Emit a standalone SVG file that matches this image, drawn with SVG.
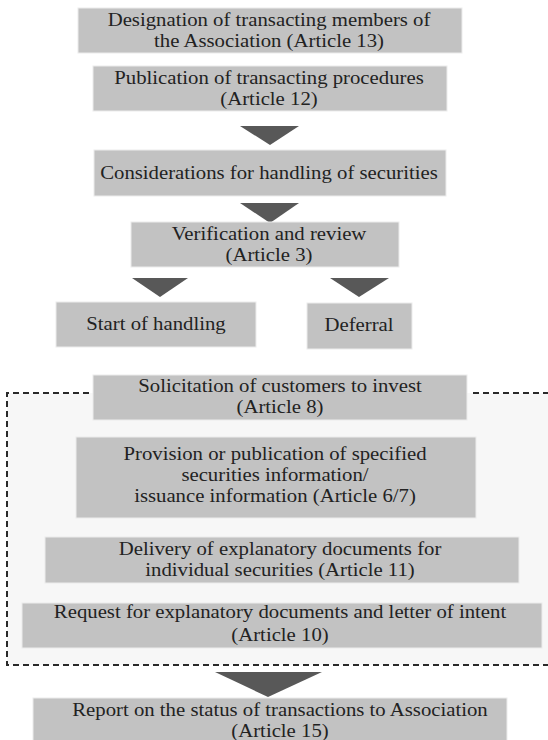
<svg xmlns="http://www.w3.org/2000/svg" width="548" height="740" viewBox="0 0 548 740">
<style>
.box{fill:#c2c2c2;stroke:#ececec;stroke-width:1}
.t{font-family:'Liberation Serif','Tinos','DejaVu Serif',serif;font-size:19.5px;fill:#222;text-anchor:middle}
.arr{fill:#585858}
.dash{fill:none;stroke:#2a2a2a;stroke-width:2;stroke-dasharray:6 4}
</style>
<rect width="548" height="740" fill="#fff"/>
<g id="dashed-region">
<rect x="7" y="393" width="560" height="272" fill="#f7f7f7"/>
<path class="dash" d="M89 393 H7 V665 H560 V393 H470"/>
</g>
<g id="connectors">
<polygon class="arr" points="240,126 299,126 270,145"/>
<polygon class="arr" points="240,203 299,203 270,223"/>
<polygon class="arr" points="132,278 188,278 160,297"/>
<polygon class="arr" points="330,278 389,278 359,297"/>
<polygon class="arr" points="215,672 322,672 268,697"/>
</g>
<g id="n1"><rect class="box" x="78" y="8" width="384" height="45"/><g transform="translate(269 0) scale(1.065 1)"><text class="t" x="0" y="26">Designation of transacting members of</text><text class="t" x="0" y="47">the Association (Article 13)</text></g></g>
<g id="n2"><rect class="box" x="93" y="66" width="354" height="45"/><g transform="translate(269 0) scale(1.065 1)"><text class="t" x="0" y="84">Publication of transacting procedures</text><text class="t" x="0" y="105">(Article 12)</text></g></g>
<g id="n3"><rect class="box" x="94" y="150" width="352" height="46"/><g transform="translate(269 0) scale(1.065 1)"><text class="t" x="0" y="179">Considerations for handling of securities</text></g></g>
<g id="n4"><rect class="box" x="131" y="222" width="268" height="45"/><g transform="translate(269 0) scale(1.065 1)"><text class="t" x="0" y="240.5">Verification and review</text><text class="t" x="0" y="261.5">(Article 3)</text></g></g>
<g id="n5"><rect class="box" x="56" y="302" width="200" height="45"/><g transform="translate(156 0) scale(1.065 1)"><text class="t" x="0" y="330">Start of handling</text></g></g>
<g id="n6"><rect class="box" x="307" y="303" width="105" height="46"/><g transform="translate(359 0) scale(1.065 1)"><text class="t" x="0" y="331">Deferral</text></g></g>
<g id="n7"><rect class="box" x="93" y="375" width="374" height="45"/><g transform="translate(280 0) scale(1.065 1)"><text class="t" x="0" y="392.5">Solicitation of customers to invest</text><text class="t" x="0" y="413.5">(Article 8)</text></g></g>
<g id="n8"><rect class="box" x="76" y="437" width="400" height="81"/><g transform="translate(275 0) scale(1.065 1)"><text class="t" x="0" y="460.5">Provision or publication of specified</text><text class="t" x="0" y="481">securities information/</text><text class="t" x="0" y="502">issuance information (Article 6/7)</text></g></g>
<g id="n9"><rect class="box" x="45" y="537" width="474" height="46"/><g transform="translate(280 0) scale(1.065 1)"><text class="t" x="0" y="555">Delivery of explanatory documents for</text><text class="t" x="0" y="576">individual securities (Article 11)</text></g></g>
<g id="n10"><rect class="box" x="22" y="603" width="520" height="45"/><g transform="translate(280 0) scale(1.065 1)"><text class="t" x="0" y="618.5">Request for explanatory documents and letter of intent</text><text class="t" x="0" y="641.5">(Article 10)</text></g></g>
<g id="n11"><rect class="box" x="33" y="698" width="474" height="50"/><g transform="translate(280 0) scale(1.065 1)"><text class="t" x="0" y="716">Report on the status of transactions to Association</text><text class="t" x="0" y="737">(Article 15)</text></g></g>
</svg>
